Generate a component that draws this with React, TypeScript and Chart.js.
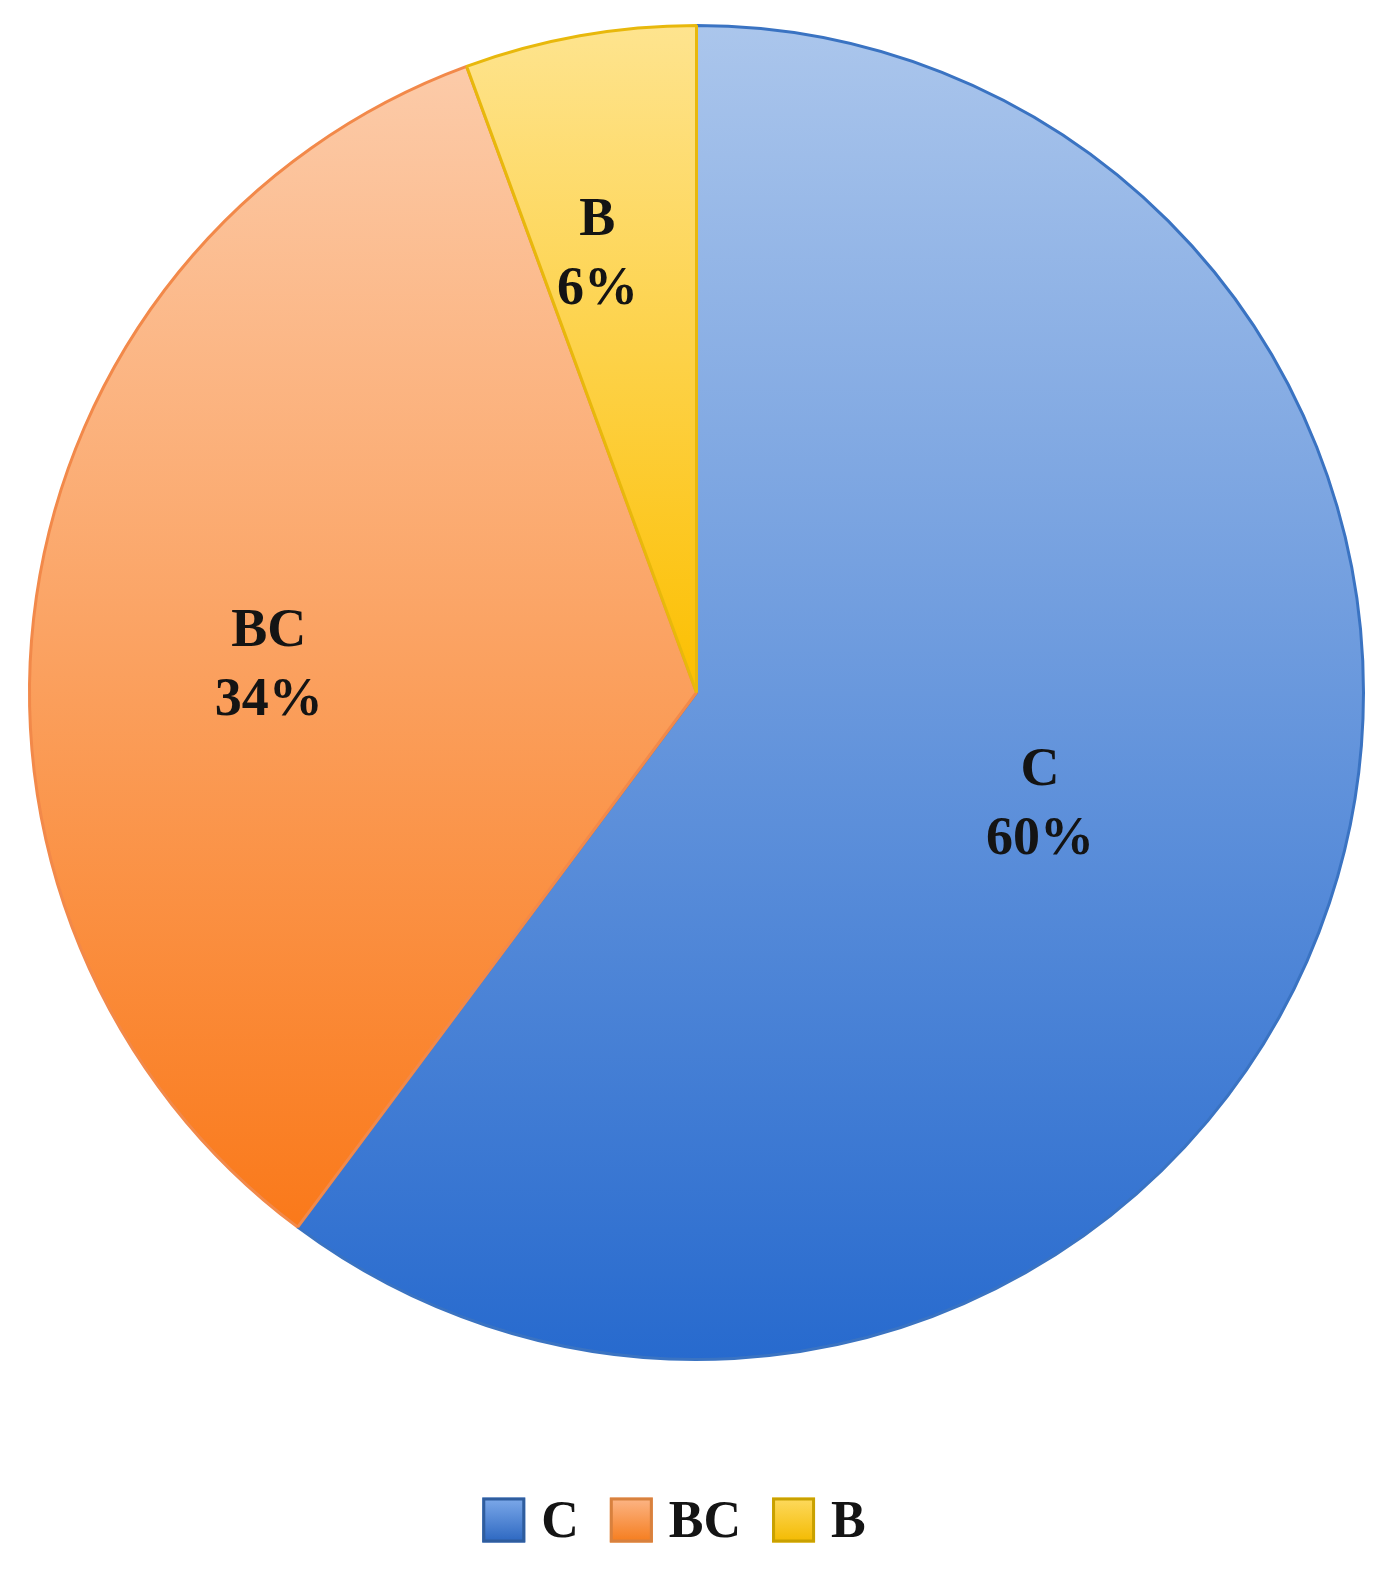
import { useEffect, useRef } from 'react';
import { Chart, registerables } from 'chart.js';

Chart.register(...registerables);

const categories = ['C', 'BC', 'B'];
const shares = [60.2, 34.2, 5.6];

const sliceTopColors = ['#abc6ec', '#fccba9', '#fee48f'];
const sliceBottomColors = ['#276ace', '#fa791a', '#fcbf00'];
const sliceBorderColors = ['#3a73c2', '#f2894a', '#e8b80c'];
const legendTopColors = ['#7eaaea', '#fcb688', '#feda60'];
const legendBottomColors = ['#2b66c0', '#f57c1c', '#f3ba00'];
const legendBorderColors = ['#2f5d9e', '#d8813e', '#c9a100'];

// label placement: radial fraction and angular nudge (degrees)
const LABEL_PLACE = [
  { f: 0.54, da: -0.8 },
  { f: 0.643, da: -4.3 },
  { f: 0.677, da: -2.6 },
];

function sliceGradient(c: any) {
  const chart = c.chart;
  const area = chart.chartArea;
  const i = c.dataIndex;
  if (!area) return sliceBottomColors[i];
  const data: number[] = c.dataset.data;
  const total = data.reduce((a, b) => a + b, 0);
  let before = 0;
  for (let k = 0; k < i; k++) before += data[k];
  const start = -Math.PI / 2 + (before / total) * Math.PI * 2;
  const end = start + (data[i] / total) * Math.PI * 2;
  const cx = (area.left + area.right) / 2;
  const cy = (area.top + area.bottom) / 2;
  const r = Math.min(area.width, area.height) / 2;
  const ys = [cy, cy + r * Math.sin(start), cy + r * Math.sin(end)];
  for (const a of [-Math.PI / 2, Math.PI / 2, (3 * Math.PI) / 2]) {
    if (a >= start && a <= end) ys.push(cy + r * Math.sin(a));
  }
  const top = Math.min(...ys);
  const bottom = Math.max(...ys);
  const g = chart.ctx.createLinearGradient(0, top, 0, bottom + 0.01);
  g.addColorStop(0, sliceTopColors[i]);
  g.addColorStop(1, sliceBottomColors[i]);
  return g;
}

const labelPlugin = {
  id: 'sliceLabels',
  afterDatasetsDraw(chart: any) {
    const ctx = chart.ctx;
    const meta = chart.getDatasetMeta(0);
    const data: number[] = chart.data.datasets[0].data;
    const total = data.reduce((a, b) => a + b, 0);
    ctx.save();
    ctx.fillStyle = '#141414';
    ctx.font = 'bold 54px "Liberation Serif", "DejaVu Serif", serif';
    ctx.textAlign = 'center';
    ctx.textBaseline = 'alphabetic';
    meta.data.forEach((arc: any, i: number) => {
      const p = arc.getProps(['x', 'y', 'startAngle', 'endAngle', 'outerRadius'], true);
      const place = LABEL_PLACE[i];
      const mid = (p.startAngle + p.endAngle) / 2 + (place.da * Math.PI) / 180;
      const lx = p.x + Math.cos(mid) * p.outerRadius * place.f;
      const ly = p.y + Math.sin(mid) * p.outerRadius * place.f;
      const pct = Math.round((data[i] / total) * 100) + '%';
      ctx.fillText(String(chart.data.labels[i]), lx, ly - 34.5 + 18);
      ctx.fillText(pct, lx, ly + 34.5 + 18);
    });
    ctx.restore();
  },
};

const legendPlugin = {
  id: 'officeLegend',
  afterDraw(chart: any) {
    const ctx = chart.ctx;
    ctx.save();
    ctx.font = 'bold 52px "Liberation Serif", "DejaVu Serif", serif';
    const boxW = 43;
    const boxH = 45;
    const gapText = 16;
    const gapItem = 31;
    const names: string[] = chart.data.labels.map(String);
    const widths = names.map((t) => ctx.measureText(t).width);
    const total =
      widths.reduce((a, b) => a + b, 0) + names.length * (boxW + gapText) + (names.length - 1) * gapItem;
    const centerX = 674;
    const centerY = 1520;
    let x = centerX - total / 2;
    names.forEach((t, i) => {
      const top = centerY - boxH / 2;
      const g = ctx.createLinearGradient(0, top, 0, top + boxH);
      g.addColorStop(0, legendTopColors[i]);
      g.addColorStop(1, legendBottomColors[i]);
      ctx.fillStyle = g;
      ctx.fillRect(x, top, boxW, boxH);
      ctx.strokeStyle = legendBorderColors[i];
      ctx.lineWidth = 3;
      ctx.strokeRect(x + 1.5, top + 1.5, boxW - 3, boxH - 3);
      x += boxW + gapText;
      ctx.fillStyle = '#141414';
      ctx.textAlign = 'left';
      ctx.textBaseline = 'alphabetic';
      ctx.fillText(t, x, centerY + 17);
      x += widths[i] + gapItem;
    });
    ctx.restore();
  },
};

export default function App() {
  const ref = useRef<HTMLCanvasElement | null>(null);
  useEffect(() => {
    document.body.style.margin = '0';
    if (!ref.current) return;
    const chart = new Chart(ref.current, {
      type: 'pie',
      data: {
        labels: categories,
        datasets: [
          {
            data: shares,
            backgroundColor: sliceGradient as any,
            borderColor: sliceBorderColors,
            borderWidth: 3,
          },
        ],
      },
      options: {
        responsive: false,
        animation: false,
        layout: { padding: { top: 24, left: 28, right: 30, bottom: 216 } },
        plugins: {
          legend: { display: false },
          tooltip: { enabled: false },
        },
      },
      plugins: [labelPlugin, legendPlugin],
    });
    return () => chart.destroy();
  }, []);
  return (
    <div style={{ width: 1395, height: 1577, background: '#ffffff' }}>
      <canvas ref={ref} width={1395} height={1577} style={{ display: 'block' }} />
    </div>
  );
}
